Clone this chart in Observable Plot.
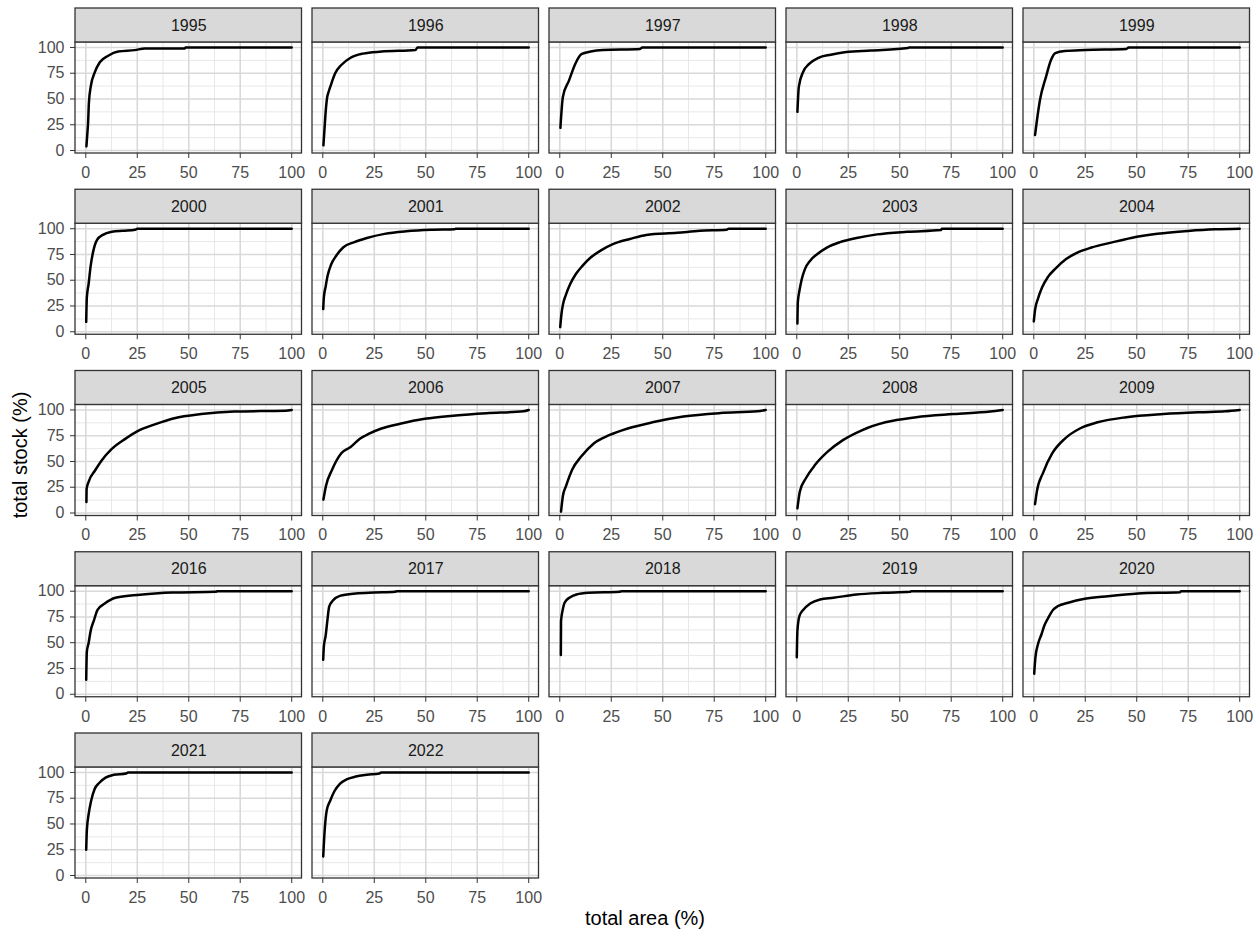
<!DOCTYPE html>
<html>
<head>
<meta charset="utf-8">
<script src="https://cdn.jsdelivr.net/npm/d3@7"></script>
<script src="https://cdn.jsdelivr.net/npm/@observablehq/plot@0.6"></script>
<style>
  body { margin: 0; background: #ffffff; }
  #wrap { position: relative; width: 1260px; height: 935px; font-family: "Liberation Sans", Arial, sans-serif; }
  #chart { position: absolute; left: 0; top: 0; }
  .xtitle { position: absolute; left: 0; width: 1290px; top: 906px; text-align: center; font-size: 20px; color: #000; line-height: 24px; }
  .ytitle { position: absolute; left: 20px; top: 455px; font-size: 20px; color: #000; white-space: nowrap; line-height: 24px;
            transform: translate(-50%, -50%) rotate(-90deg); }
</style>
</head>
<body>
<div id="wrap">
  <div id="chart"></div>
  <div class="xtitle">total area (%)</div>
  <div class="ytitle">total stock (%)</div>
</div>
<script>
// Panel years, in reading order (five panels per row)
const years = [1995, 1996, 1997, 1998, 1999, 2000, 2001, 2002, 2003, 2004,
               2005, 2006, 2007, 2008, 2009, 2016, 2017, 2018, 2019, 2020,
               2021, 2022];

// Cumulative curves per year: [total area (%), total stock (%)]
const curve1995 = [[0.3,4],[0.7,15],[1.1,26.5],[1.5,46],[2.4,62],[4.4,76],[6.8,85.6],[10.9,92],[15.7,96],[23.8,97.4],[28.7,99],[48,99],[48.5,100],[100,100]];
const curve1996 = [[0.3,5],[0.8,20],[1.3,35],[2,50],[3,58],[4,64],[6,75],[9,83],[13.5,90],[19.5,94],[28.5,96],[45,97.5],[46,100],[100,100]];
const curve1997 = [[0.3,22],[1.5,52],[4.5,68],[7.5,84],[10.5,93.5],[15,96],[21,97.5],[39,98.5],[40,100],[100,100]];
const curve1998 = [[0.3,37.5],[1,62],[3,76],[6,84],[10.5,90],[16.5,93],[24,95.5],[36,97],[54,99.5],[54.5,100],[100,100]];
const curve1999 = [[0.6,15],[3,49],[6,72],[8.4,88],[10.5,94.5],[15,96.5],[25,97.5],[45,98.5],[46,100],[100,100]];
const curve2000 = [[0.2,9.6],[0.5,33],[1.4,47],[2.3,63],[3.6,78],[5.4,89],[8.3,94],[12.7,97],[18,98],[24,99],[25,100],[100,100]];
const curve2001 = [[0.2,22],[0.5,33],[1.4,44],[2.3,54],[4,65],[6.6,74],[10,82],[15.3,87],[21.4,91],[30,95],[40.5,97.5],[52.7,99],[64,99.5],[64.5,100],[100,100]];
const curve2002 = [[0.2,4.5],[0.8,17],[1.6,27],[3,36],[5,46],[7.8,56],[11,64],[15,72],[20,79],[25.8,85],[34,90],[42,94],[57,96],[68,98],[81,99],[82,100],[100,100]];
const curve2003 = [[0.3,8],[0.5,28.6],[1.3,40],[2.4,51],[4,61],[6.5,69],[9.7,75],[14.6,81.7],[21,87],[29,91],[39,94.5],[53.5,97],[70,98.7],[70.5,100],[100,100]];
const curve2004 = [[0,10],[0.6,21],[2,32],[4,43],[6.8,53],[10.9,62],[15.7,70.5],[21.4,77],[28,81.7],[37.6,86.5],[47.3,91],[60,95],[75,97.8],[88,99.4],[100,100]];
const curve2005 = [[0.3,10.6],[0.4,23.5],[1.5,31],[4.4,41],[7.6,50.8],[12.5,62],[19,71.7],[25.4,79.7],[33.5,86],[43,92],[56,96],[72,98.4],[88.6,99],[97,99.2],[100,100]];
const curve2006 = [[0.3,13],[1.5,26],[4.5,42],[9,58],[13.5,64],[18,72],[22.5,77],[28.5,82],[37.5,86.6],[49.5,91.4],[64.5,94.6],[79.5,96.8],[97.5,98.7],[100,100]];
const curve2007 = [[0.6,1.3],[1.5,16.5],[3,26],[6,42],[10.5,55],[16.5,67.5],[24,75.5],[33,82],[45,88],[60,93.6],[78,97],[96,98.7],[100,100]];
const curve2008 = [[0.3,4.5],[1.5,21],[4.5,34],[9,47],[15,59.5],[22.4,70.7],[31.3,80],[43,88],[58,93],[76,96],[94,98.4],[100,100]];
const curve2009 = [[0.6,8.6],[1.5,21],[4.5,39],[9,58],[15,72],[22.4,82],[31,88],[45,93],[63,96],[81,97.8],[93,98.7],[100,100]];
const curve2016 = [[0.2,14],[0.5,41],[1.4,50],[2.3,61],[4,72],[5.7,82],[9.2,88],[14.4,93.6],[23,96],[33.6,97.8],[42,98.7],[63,99.4],[64,100],[100,100]];
const curve2017 = [[0.2,33.6],[0.5,46],[1.4,57],[2.3,73],[3.1,85],[4.9,91],[8.3,95.5],[16,97.8],[25,98.7],[35,99.4],[36,100],[100,100]];
const curve2018 = [[0.5,38],[0.6,71],[1.3,80.7],[2.4,89],[4.9,94],[8.1,96.8],[14,98.4],[29,99.4],[30,100],[100,100]];
const curve2019 = [[0,36],[0.3,61.5],[1.3,76],[3.2,82],[6.5,88],[11.3,92],[17.8,93.6],[29,96.8],[42,98.4],[55,99.4],[55.5,100],[100,100]];
const curve2020 = [[0.2,20],[0.8,36],[2.1,49],[3.7,58],[5,66],[7,74],[9.4,82],[11.8,85.6],[16.7,88.8],[24.8,92.6],[36,95.2],[50.6,97.8],[71,99],[71.5,100],[100,100]];
const curve2021 = [[0.2,25],[0.5,43.5],[1.4,59.7],[2.6,72.6],[4.3,84],[6.6,90],[9.6,95],[13.6,97.7],[19.6,99],[20.5,100],[100,100]];
const curve2022 = [[0.2,18.4],[0.9,43.5],[1.9,63],[3.6,72.6],[5.7,82],[8.3,89],[11.8,93.5],[16,96],[21.4,97.7],[27.5,99],[28.3,100],[100,100]];

const curves = [curve1995, curve1996, curve1997, curve1998, curve1999, curve2000, curve2001,
                curve2002, curve2003, curve2004, curve2005, curve2006, curve2007, curve2008,
                curve2009, curve2016, curve2017, curve2018, curve2019, curve2020, curve2021, curve2022];

// Axis breaks
const majorBreaks = [0, 25, 50, 75, 100];
const minorBreaks = [12.5, 37.5, 62.5, 87.5];

// Scale extents (ggplot-style 5% expansion), plus a band above each panel for the strip
const xLo = -5, xHi = 105;
const yLo = -2.9, panelTop = 104.85, stripTop = 137.8;
const ncol = 5;

const panels = years.map((year, i) => ({year, col: i % ncol, row: Math.floor(i / ncol)}));
const points = panels.flatMap((p, i) => curves[i].map(([x, y]) => ({...p, x, y})));
const gridMajor = panels.flatMap(p => majorBreaks.map(v => ({...p, v})));
const gridMinor = panels.flatMap(p => minorBreaks.map(v => ({...p, v})));

const facet = {fx: "col", fy: "row"};

const chart = Plot.plot({
  width: 1260,
  height: 935,
  marginLeft: 75,
  marginRight: 10.5,
  marginTop: 8,
  marginBottom: 57,
  style: {fontFamily: "'Liberation Sans', Arial, sans-serif", fontSize: "16px", background: "#ffffff"},
  fx: {domain: d3.range(5), paddingInner: 0.0443, paddingOuter: 0, round: false, axis: null},
  fy: {domain: d3.range(5), paddingInner: 0.2, paddingOuter: 0, round: false, axis: null},
  x: {domain: [xLo, xHi], label: null},
  y: {domain: [yLo, stripTop], label: null},
  marks: [
    // panel background grid
    Plot.ruleX(gridMinor, {...facet, x: "v", y1: yLo, y2: panelTop, stroke: "#e8e8e8", strokeWidth: 1}),
    Plot.ruleY(gridMinor, {...facet, y: "v", x1: xLo, x2: xHi, stroke: "#e8e8e8", strokeWidth: 1}),
    Plot.ruleX(gridMajor, {...facet, x: "v", y1: yLo, y2: panelTop, stroke: "#d9d9d9", strokeWidth: 1.6}),
    Plot.ruleY(gridMajor, {...facet, y: "v", x1: xLo, x2: xHi, stroke: "#d9d9d9", strokeWidth: 1.6}),
    // cumulative stock curves
    Plot.line(points, {...facet, x: "x", y: "y", z: "year", curve: "monotone-x",
                       stroke: "#000000", strokeWidth: 2.5}),
    // panel border
    Plot.rect(panels, {...facet, x1: xLo, x2: xHi, y1: yLo, y2: panelTop, fill: "none", stroke: "#333333", strokeWidth: 1.3}),
    // strip with the year label
    Plot.rect(panels, {...facet, x1: xLo, x2: xHi, y1: panelTop, y2: stripTop, fill: "#d9d9d9", stroke: "#333333", strokeWidth: 1.3}),
    Plot.text(panels, {...facet, x: (xLo + xHi) / 2, y: (panelTop + stripTop) / 2, text: d => String(d.year),
                       fontSize: 16, fill: "#1a1a1a"}),
    // axes
    Plot.axisY(majorBreaks, {anchor: "left", tickSize: 5, tickPadding: 6, fontSize: 16,
                             stroke: "#333333", fill: "#4d4d4d", label: null}),
    Plot.axisX(majorBreaks, {anchor: "bottom", facetAnchor: null, tickSize: 5, tickPadding: 8, fontSize: 16,
                             stroke: "#333333", fill: "#4d4d4d", label: null})
  ]
});

document.getElementById("chart").appendChild(chart);
</script>
</body>
</html>
